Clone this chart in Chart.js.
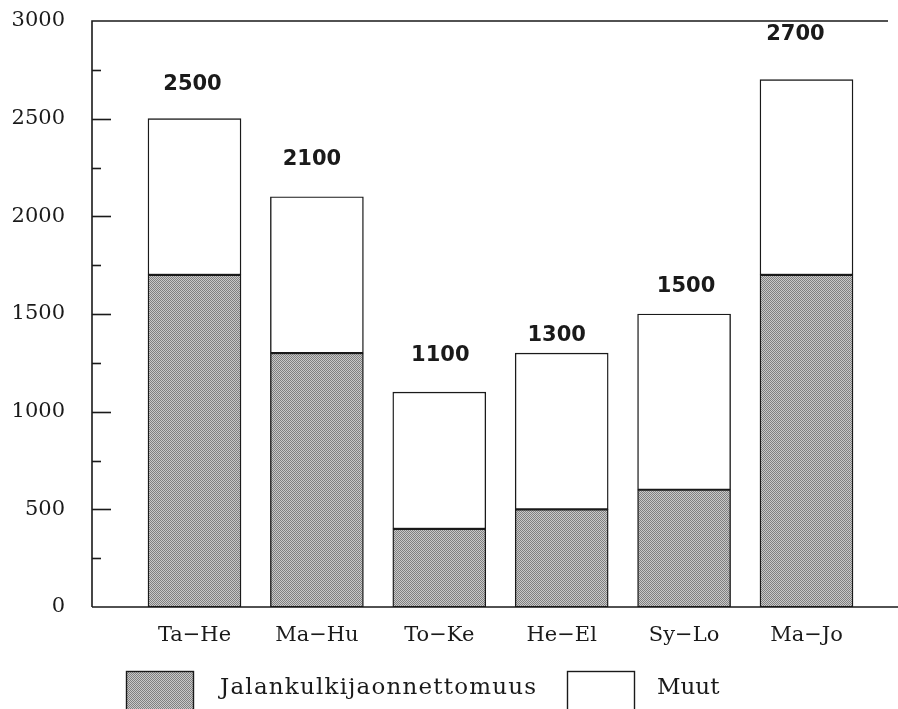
<!DOCTYPE html>
<html>
<head>
<meta charset="utf-8">
<script src="https://cdn.jsdelivr.net/npm/chart.js@4.4.1/dist/chart.umd.min.js"></script>
<style>
    html, body { margin: 0; padding: 0; background: #fff; }
    #wrap { width: 898px; height: 709px; }
</style>
</head>
<body>
<div id="wrap"><canvas id="bar-chart" width="898" height="709"></canvas></div>
<script>
var regions = ['Ta\u2212He', 'Ma\u2212Hu', 'To\u2212Ke', 'He\u2212El', 'Sy\u2212Lo', 'Ma\u2212Jo'];
var jalankulkija = [1700, 1300, 400, 500, 600, 1700];
var muut = [800, 800, 700, 800, 900, 1000];
var yTicks = [0, 500, 1000, 1500, 2000, 2500, 3000];

var serif = '"DejaVu Serif", serif';
var ink = '#1a1a1a';

/*
*   harmaa rasterikuvio alaosan pylväisiin
*/
var makeDots = function () {
    var c = document.createElement('canvas');
    c.width = 2;
    c.height = 2;
    var g = c.getContext('2d');
    g.fillStyle = '#c9c9c9';
    g.fillRect(0, 0, 2, 2);
    g.fillStyle = '#808080';
    g.fillRect(0, 0, 1, 1);
    g.fillRect(1, 1, 1, 1);
    return g.createPattern(c, 'repeat');
};
var dots = makeDots();

// summien nostot pylvään yläreunasta (px) ja sivusiirrot
var labelLift = [34, 37, 37, 18, 27, 45];
var labelShift = [-2, -5, 1, -5, 2, -11];
// selitteen laatikoiden vasemmat reunat
var legendX = [126, 567];

var framePlugin = {
    id: 'frame',
    afterDatasetsDraw: function (chart) {
        var ctx = chart.ctx;
        var a = chart.chartArea;
        var y = chart.scales.y;
        var x = chart.scales.x;
        ctx.save();
        ctx.strokeStyle = ink;
        ctx.lineWidth = 1.6;
        ctx.beginPath();
        ctx.moveTo(a.left, a.bottom);
        ctx.lineTo(a.left, a.top);
        ctx.lineTo(a.right, a.top);
        ctx.moveTo(a.left, a.bottom);
        ctx.lineTo(chart.width, a.bottom);
        ctx.stroke();

        // sisäänpäin osoittavat väliviivat
        for (var v = 250; v < 3000; v += 250) {
            var py = Math.round(y.getPixelForValue(v)) + 0.5;
            var len = (v % 500 === 0) ? 19 : 9;
            ctx.beginPath();
            ctx.moveTo(a.left, py);
            ctx.lineTo(a.left + len, py);
            ctx.stroke();
        }

        // summat pylväiden yläpuolelle
        ctx.fillStyle = ink;
        ctx.font = 'bold 21px "DejaVu Sans", sans-serif';
        ctx.textAlign = 'center';
        ctx.textBaseline = 'middle';
        for (var i = 0; i < regions.length; i++) {
            var total = jalankulkija[i] + muut[i];
            var px = x.getPixelForValue(i + 1) + labelShift[i];
            var ty = y.getPixelForValue(total) - labelLift[i];
            ctx.fillText(String(total), px, ty);
        }

        // selite
        ctx.font = '23px ' + serif;
        ctx.textAlign = 'left';
        ctx.textBaseline = 'alphabetic';
        var items = chart.data.datasets;
        for (var k = 0; k < items.length; k++) {
            var bx = legendX[k], by = 671, bw = 67, bh = 45;
            ctx.fillStyle = items[k].backgroundColor;
            ctx.fillRect(bx, by, bw, bh);
            ctx.lineWidth = 1.4;
            ctx.strokeStyle = ink;
            ctx.strokeRect(bx + 0.5, by + 0.5, bw, bh);
            ctx.fillStyle = ink;
            ctx.letterSpacing = k === 0 ? '1.2px' : '0px';
            ctx.fillText(items[k].label, bx + bw + (k === 0 ? 27 : 23), 694);
        }
        ctx.restore();
    }
};

var toPoints = function (arr) {
    return arr.map(function (v, i) {
        return { x: i + 1, y: v };
    });
};

var ctx = document.getElementById('bar-chart').getContext('2d');
var barChart = new Chart(ctx, {
    type: 'bar',
    data: {
        datasets: [{
            label: 'Jalankulkijaonnettomuus',
            data: toPoints(jalankulkija),
            backgroundColor: dots,
            borderColor: ink,
            borderWidth: 1.4,
            borderSkipped: false,
            barThickness: 93
        }, {
            label: 'Muut',
            data: toPoints(muut),
            backgroundColor: '#ffffff',
            borderColor: ink,
            borderWidth: 1.4,
            borderSkipped: false,
            barThickness: 93
        }]
    },
    options: {
        responsive: false,
        animation: false,
        events: [],
        layout: {
            autoPadding: false,
            padding: { top: 21, right: 10, bottom: 0, left: 0 }
        },
        plugins: {
            legend: { display: false },
            tooltip: { enabled: false }
        },
        scales: {
            x: {
                type: 'linear',
                stacked: true,
                offset: false,
                min: 0.1626,
                max: 6.666,
                grid: { display: false, offset: false },
                border: { display: false },
                afterFit: function (scale) {
                    scale.height = 102;
                    scale.paddingLeft = 0;
                    scale.paddingRight = 0;
                },
                afterBuildTicks: function (scale) {
                    scale.ticks = regions.map(function (r, i) {
                        return { value: i + 1 };
                    });
                },
                ticks: {
                    autoSkip: false,
                    maxRotation: 0,
                    padding: 8,
                    color: ink,
                    font: { family: serif, size: 21 },
                    callback: function (v) {
                        return regions[v - 1];
                    }
                }
            },
            y: {
                stacked: true,
                min: 0,
                max: 3000,
                grid: { display: false },
                border: { display: false },
                afterFit: function (scale) {
                    scale.width = 92;
                    scale.paddingTop = 0;
                    scale.paddingBottom = 0;
                },
                afterBuildTicks: function (scale) {
                    scale.ticks = yTicks.map(function (v) {
                        return { value: v };
                    });
                },
                ticks: {
                    padding: 19,
                    color: ink,
                    font: { family: serif, size: 21 },
                    callback: function (v) {
                        return String(v);
                    }
                }
            }
        }
    },
    plugins: [framePlugin]
});
</script>
</body>
</html>
